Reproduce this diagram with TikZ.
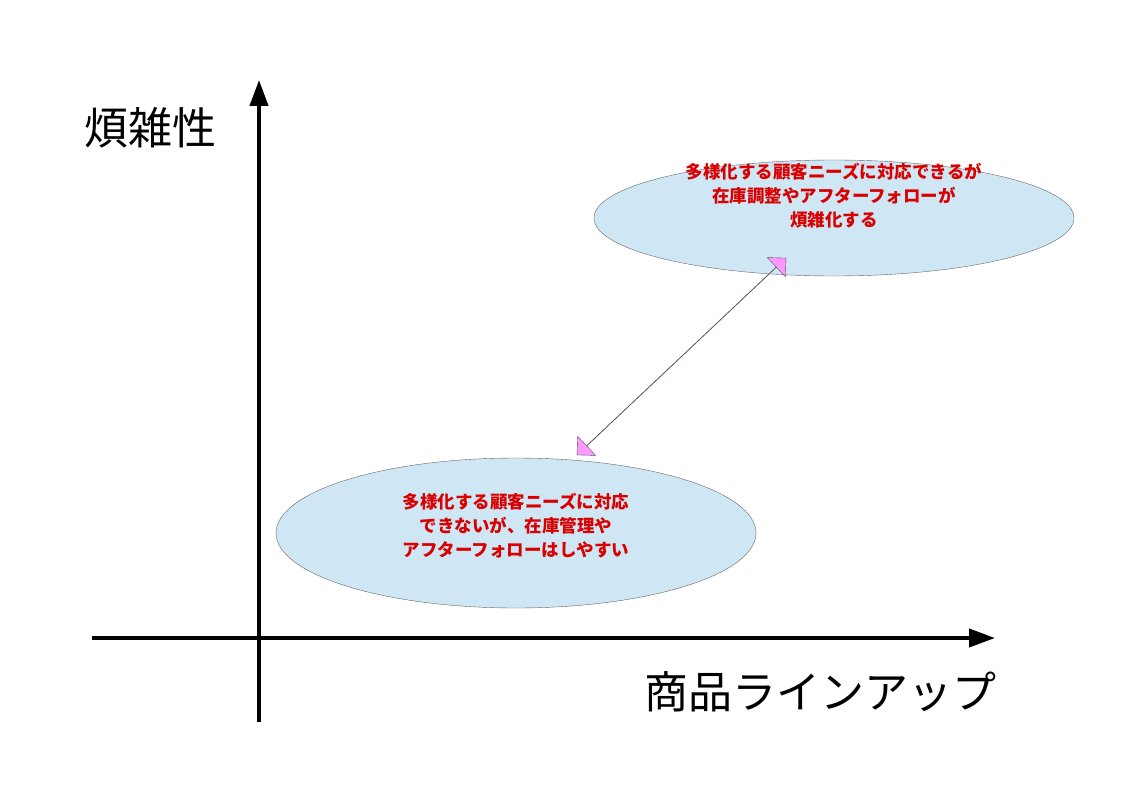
\documentclass[tikz,border=0pt]{standalone}
\usepackage{fontspec}
\setmainfont{Noto Sans CJK JP}
\usetikzlibrary{shapes.arrows,shapes.geometric,arrows.meta}
\definecolor{bub}{RGB}{207,231,245}
\definecolor{pinkarr}{RGB}{255,153,255}
\begin{document}
\begin{tikzpicture}[x=1pt,y=-1pt,
  axis/.style={line width=4pt,-{Triangle[length=26pt,width=18pt]}},
  bubble/.style={ellipse,draw=gray!80!black,fill=bub,minimum width=480pt},
  note/.style={text=red!85!black,font=\bfseries\fontsize{17.5}{24}\selectfont,align=center},
  big/.style={font=\fontsize{44}{50}\selectfont}]
\useasboundingbox (0,0) rectangle (1123,794);
\coordinate (ys) at (259,722); \coordinate (ye) at (259,80);
\coordinate (xs) at (92,638); \coordinate (xe) at (995,638);
\draw[axis] (ys) -- (ye);
\draw[axis] (xs) -- (xe);
\node[big] (yl) at (150,128) {煩雑性};
\node[big] (xl) at (820,692) {商品ラインアップ};
\node[bubble,minimum height=116pt] (top) at (834,218) {};
\node[bubble,minimum height=150pt] (bot) at (516,533) {};
\node[note] (tt) at (834,196) {多様化する顧客ニーズに対応できるが\\在庫調整やアフターフォローが\\煩雑化する};
\node[note] (bt) at (516,526) {多様化する顧客ニーズに対応\\できないが、在庫管理や\\アフターフォローはしやすい};
\node[double arrow,draw=gray!70!black,fill=pinkarr,minimum height=287pt,minimum width=22pt,double arrow head extend=13pt,inner sep=0pt,rotate=43.3] (arr) at (681.5,356.5) {};
\end{tikzpicture}
\end{document}
